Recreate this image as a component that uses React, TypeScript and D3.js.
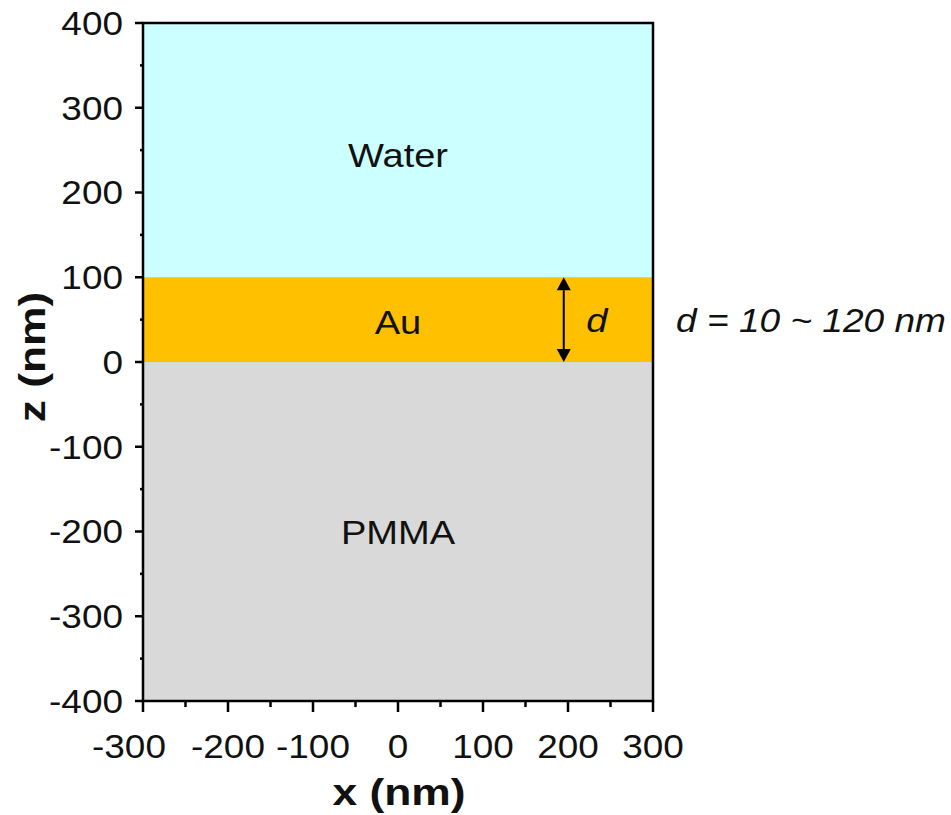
import React from "react";
import * as d3 from "d3";

// Layer stack of the simulated structure (z ranges in nm)
const layerNames = ["Water", "Au", "PMMA"];
const layerTops = [400, 100, 0];
const layerBottoms = [100, 0, -400];
const layerColors = ["#CCFFFF", "#FFC000", "#D9D9D9"];
const labelShift = [5, 2, 1];

// Au film thickness marker
const filmBottom = 0;
const filmTop = 100;
const markerX = 195;
const rangeNote = "d = 10 ~ 120 nm";

const xMajorTicks = [-300, -200, -100, 0, 100, 200, 300];
const xMinorTicks = [-250, -150, -50, 50, 150, 250];
const yMajorTicks = [400, 300, 200, 100, 0, -100, -200, -300, -400];
const yMinorTicks = [350, 250, 150, 50, -50, -150, -250, -350];

const W = 951;
const H = 815;
const FONT = "'Liberation Sans', Arial, sans-serif";
const SX = 1.12; // horizontal widening of the label glyphs

type LabelProps = {
  x: number;
  y: number;
  size: number;
  anchor?: "start" | "middle" | "end";
  italic?: boolean;
  bold?: boolean;
  rotate?: number;
  sx?: number;
  dy?: string;
  children: React.ReactNode;
};

function Label({ x, y, size, anchor = "middle", italic, bold, rotate = 0, sx = SX, dy, children }: LabelProps) {
  return (
    <text
      transform={`translate(${x},${y}) rotate(${rotate}) scale(${sx},1)`}
      textAnchor={anchor}
      dy={dy}
      fontSize={size}
      fontStyle={italic ? "italic" : "normal"}
      fontWeight={bold ? "bold" : "normal"}
      fill="#111"
    >
      {children}
    </text>
  );
}

export default function App() {
  const x = d3.scaleLinear().domain([-300, 300]).range([143, 653]);
  const y = d3.scaleLinear().domain([-400, 400]).range([701, 23]);

  const x0 = x(-300);
  const x1 = x(300);
  const yTop = y(400);
  const yBot = y(-400);

  const ax = x(markerX);
  const aTop = y(filmTop);
  const aBot = y(filmBottom);
  const aMid = (aTop + aBot) / 2;
  const head = 13;

  return (
    <svg
      width={W}
      height={H}
      style={{ position: "absolute", left: 0, top: 0, background: "#fff" }}
      fontFamily={FONT}
    >
      {/* material layers */}
      {layerNames.map((name, i) => (
        <rect
          key={name}
          x={x0}
          y={y(layerTops[i])}
          width={x1 - x0}
          height={y(layerBottoms[i]) - y(layerTops[i])}
          fill={layerColors[i]}
        />
      ))}

      {/* layer names */}
      {layerNames.map((name, i) => (
        <Label
          key={name + "-label"}
          x={x(0)}
          y={(y(layerTops[i]) + y(layerBottoms[i])) / 2 + labelShift[i]}
          dy="0.35em"
          size={34}
        >
          {name}
        </Label>
      ))}

      {/* thickness arrow */}
      <line x1={ax} x2={ax} y1={aTop + head} y2={aBot - head} stroke="#000" strokeWidth={2} />
      <path d={`M${ax},${aTop} L${ax - 7},${aTop + head} L${ax + 7},${aTop + head} Z`} fill="#000" />
      <path d={`M${ax},${aBot} L${ax - 7},${aBot - head} L${ax + 7},${aBot - head} Z`} fill="#000" />
      <Label x={ax + 33} y={aMid} dy="0.35em" size={34} italic>
        d
      </Label>
      <Label x={811} y={aMid} dy="0.35em" size={34} italic sx={1.09}>
        {rangeNote}
      </Label>

      {/* frame */}
      <rect x={x0} y={yTop} width={x1 - x0} height={yBot - yTop} fill="none" stroke="#000" strokeWidth={2.5} />

      {/* x ticks */}
      {xMajorTicks.map((t) => (
        <line key={"xM" + t} x1={x(t)} x2={x(t)} y1={yBot} y2={yBot + 11} stroke="#000" strokeWidth={2.5} />
      ))}
      {xMinorTicks.map((t) => (
        <line key={"xm" + t} x1={x(t)} x2={x(t)} y1={yBot} y2={yBot + 6} stroke="#000" strokeWidth={2.5} />
      ))}
      {xMajorTicks.map((t, i) => (
        <Label key={"xl" + t} x={x(t) + (i === 0 ? -14 : 0)} y={758} size={33}>
          {t}
        </Label>
      ))}

      {/* y ticks */}
      {yMajorTicks.map((t) => (
        <line key={"yM" + t} x1={x0 - 8} x2={x0} y1={y(t)} y2={y(t)} stroke="#000" strokeWidth={2.5} />
      ))}
      {yMinorTicks.map((t) => (
        <line key={"ym" + t} x1={x0 - 3} x2={x0} y1={y(t)} y2={y(t)} stroke="#000" strokeWidth={2.5} />
      ))}
      {yMajorTicks.map((t) => (
        <Label key={"yl" + t} x={123} y={y(t)} dy="0.36em" anchor="end" size={33}>
          {t}
        </Label>
      ))}

      {/* axis titles */}
      <Label x={399} y={805} size={37} bold sx={1.2}>
        x (nm)
      </Label>
      <Label x={45} y={357} size={37} bold rotate={-90} sx={1.2}>
        z (nm)
      </Label>
    </svg>
  );
}
